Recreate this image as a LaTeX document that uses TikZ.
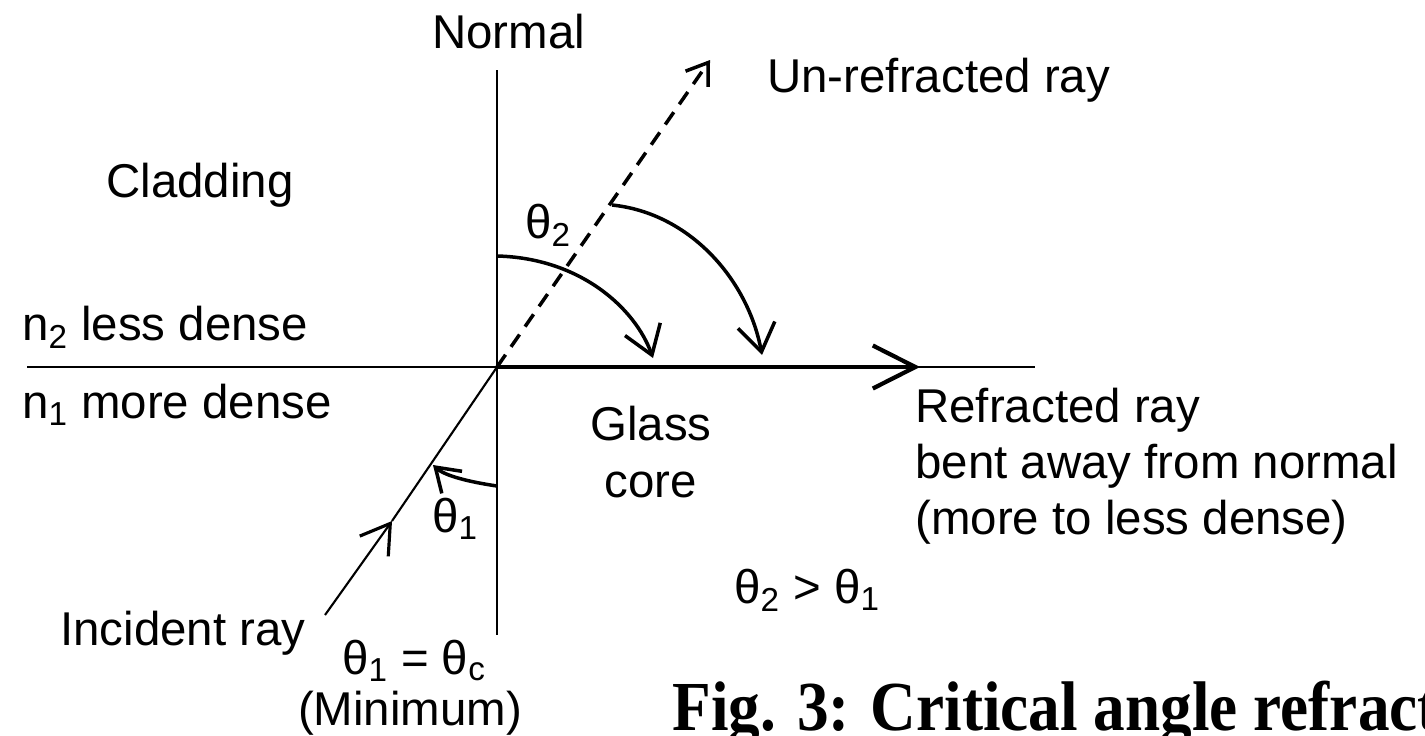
\documentclass[tikz,border=0pt]{standalone}
\usepackage{fontspec}
\setmainfont{Liberation Sans}
\newfontfamily\capfont[FakeStretch=0.9]{Liberation Serif}
\usetikzlibrary{arrows.meta}

\newcommand{\sub}[1]{\textsubscript{#1}}

\begin{document}
\begin{tikzpicture}[
  x=0.02cm, y=-0.02cm,
  lbl/.style={font=\fontsize{27}{32}\selectfont, inner sep=0pt, anchor=base west},
  axisline/.style={line width=1.1pt},
  normline/.style={line width=1.6pt},
  refrray/.style={line width=2.4pt},
  incray/.style={line width=1.2pt},
  unray/.style={line width=2pt, dash pattern=on 8.5pt off 5.5pt},
  angarr/.style={line width=2pt, -{Straight Barb[length=5.5mm,width=7.5mm]}},
  tip/.style={-{Straight Barb[length=8.5mm,width=8.6mm]}}
]
\useasboundingbox (0,0) rectangle (1425,735);
\fill[white] (0,0) rectangle (1425,735);

% points of the construction
\coordinate (O) at (497,367);
\coordinate (ntop) at (497,70);
\coordinate (nbot) at (497,635);
\coordinate (ileft) at (27,367);
\coordinate (iright) at (1035,367);
\coordinate (rtip) at (920,367);
\coordinate (utip) at (710,60);
\coordinate (istart) at (325,615);
\coordinate (imid) at (392,521);
\coordinate (aa) at (497,256);
\coordinate (ab) at (653,358);
\coordinate (ba) at (612,205);
\coordinate (bb) at (762,355);
\coordinate (ca) at (497,486);
\coordinate (cb) at (433,465);

% normal, interface and rays
\draw[normline] (ntop) -- (nbot);
\draw[axisline] (ileft) -- (iright);
\draw[refrray, tip] (O) -- (rtip);
\draw[unray, -{Straight Barb[length=4mm,width=5.5mm]}] (O) -- (utip);
\draw[incray, -{Straight Barb[length=5.6mm,width=7mm,line width=1.8pt]}] (istart) -- (imid);
\draw[incray] (imid) -- (O);

% angle arrows
\draw[angarr] (aa) .. controls (580,258) and (635,308) .. (ab);
\draw[angarr] (ba) .. controls (690,213) and (748,280) .. (bb);
\draw[angarr, -{Straight Barb[length=4.5mm,width=6mm]}] (ca) .. controls (470,482) and (445,476) .. (cb);

% labels
\node[lbl] (normal) at (432,48) {Normal};
\node[lbl] (unrefr) at (767,92) {Un-refracted ray};
\node[lbl] (clad) at (106,197) {Cladding};
\node[lbl] (th2) at (525,238) {θ\sub{2}};
\node[lbl] (less) at (22,340) {n\sub{2} less dense};
\node[lbl] (more) at (22,418) {n\sub{1} more dense};
\node[lbl, anchor=base] (glass) at (651,440) {Glass};
\node[lbl, anchor=base] (core) at (651,497) {core};
\node[lbl] (refr) at (915,422) {Refracted ray};
\node[lbl] (bent) at (915,478) {bent away from normal};
\node[lbl] (mtol) at (915,534) {(more to less dense)};
\node[lbl] (th1) at (432,532) {θ\sub{1}};
\node[lbl] (cmp) at (734,603) {θ\sub{2} > θ\sub{1}};
\node[lbl] (inc) at (60,645) {Incident ray};
\node[lbl, anchor=base] (crit) at (414,674) {θ\sub{1} = θ\sub{c}};
\node[lbl, anchor=base] (mini) at (410,725) {(Minimum)};

\begin{scope}
\clip (0,0) rectangle (1425,735);
\node[inner sep=0pt, anchor=base west, font=\capfont\bfseries\fontsize{40}{44}\selectfont] (cap) at (672,730) {Fig. 3: Critical angle refraction};
\end{scope}
\end{tikzpicture}
\end{document}
